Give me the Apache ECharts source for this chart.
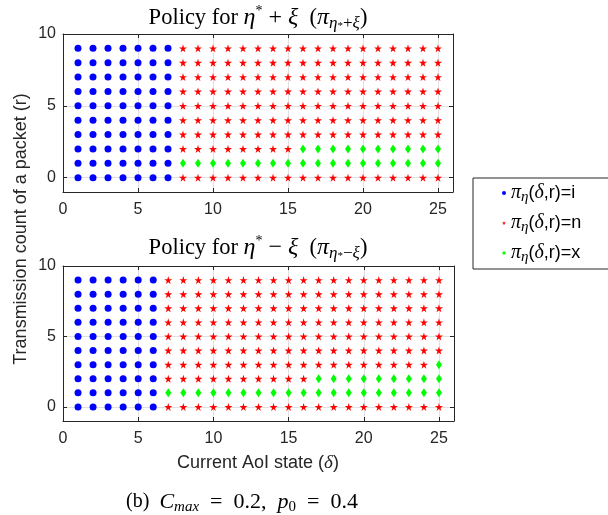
<!DOCTYPE html>
<html>
<head>
<meta charset="utf-8">
<script src="https://cdn.jsdelivr.net/npm/echarts@6/dist/echarts.min.js"></script>
<style>
html,body{margin:0;padding:0;background:#fff;}
#chart{width:608px;height:515px;}
</style>
</head>
<body>
<div id="chart"></div>
<script>
// ---- data ----
const deltaValues = [1,2,3,4,5,6,7,8,9,10,11,12,13,14,15,16,17,18,19,20,21,22,23,24,25];
const rValues = [0,1,2,3,4,5,6,7,8,9];
// action per delta (1..25) for each r (0..9): i = idle, n = new, x = retransmit
const policyPlus = [
  'iiiiiiinnnnnnnnnnnnnnnnnn', // r=0
  'iiiiiiixxxxxxxxxxxxxxxxxx', // r=1
  'iiiiiiinnnnnnnnxxxxxxxxxx', // r=2
  'iiiiiiinnnnnnnnnnnnnnnnnn', // r=3
  'iiiiiiinnnnnnnnnnnnnnnnnn', // r=4
  'iiiiiiinnnnnnnnnnnnnnnnnn', // r=5
  'iiiiiiinnnnnnnnnnnnnnnnnn', // r=6
  'iiiiiiinnnnnnnnnnnnnnnnnn', // r=7
  'iiiiiiinnnnnnnnnnnnnnnnnn', // r=8
  'iiiiiiinnnnnnnnnnnnnnnnnn'  // r=9
];
const policyMinus = [
  'iiiiiinnnnnnnnnnnnnnnnnnn', // r=0
  'iiiiiixxxxxxxxxxxxxxxxxxx', // r=1
  'iiiiiinnnnnnnnnnxxxxxxxxx', // r=2
  'iiiiiinnnnnnnnnnnnnnnnnnx', // r=3
  'iiiiiinnnnnnnnnnnnnnnnnnn', // r=4
  'iiiiiinnnnnnnnnnnnnnnnnnn', // r=5
  'iiiiiinnnnnnnnnnnnnnnnnnn', // r=6
  'iiiiiinnnnnnnnnnnnnnnnnnn', // r=7
  'iiiiiinnnnnnnnnnnnnnnnnnn', // r=8
  'iiiiiinnnnnnnnnnnnnnnnnnn'  // r=9
];
const actions = ['i', 'n', 'x'];
const xTickLabels = ['0','5','10','15','20','25'];
const yTickLabels = ['0','5','10'];

// ---- styling ----
const AX = '#262626';
const GRIDC = '#e0e0e0';
const starPath = 'path://M50,0 L61,35 L98,35 L68,57 L79,91 L50,70 L21,91 L32,57 L2,35 L39,35 Z';
const actionStyle = {
  i: {color: '#0000ff', symbol: 'circle', size: 7},
  n: {color: '#ff0000', symbol: starPath, size: 8},
  x: {color: '#00ff00', symbol: 'diamond', size: [6, 9]}
};

function pointsFor(policy, act) {
  const pts = [];
  rValues.forEach((r, ri) => {
    deltaValues.forEach((d, di) => {
      if (policy[ri][di] === act) pts.push([d, r]);
    });
  });
  return pts;
}

const grids = [
  {left: 63, top: 34, width: 390, height: 158},
  {left: 63, top: 266, width: 391, height: 155}
];

const xAxes = [], yAxes = [], series = [];
[policyPlus, policyMinus].forEach((policy, g) => {
  const common = {min: 0, max: 26, interval: 5, gridIndex: g, type: 'value'};
  xAxes.push(Object.assign({}, common, {
    position: 'bottom',
    axisLine: {show: true, onZero: false, lineStyle: {color: AX, width: 1}},
    axisTick: {show: true, inside: true, length: 4, lineStyle: {color: AX}},
    axisLabel: {show: true, margin: 10, color: AX, fontFamily: 'Liberation Sans', fontSize: 16,
      formatter: v => xTickLabels.indexOf(String(v)) >= 0 ? String(v) : ''},
    splitLine: {show: true, lineStyle: {color: GRIDC, width: 1}}
  }));
  xAxes.push(Object.assign({}, common, {
    position: 'top',
    axisLine: {show: true, onZero: false, lineStyle: {color: AX, width: 1}},
    axisTick: {show: true, inside: true, length: 4, lineStyle: {color: AX}},
    axisLabel: {show: false},
    splitLine: {show: false}
  }));
  const ycommon = {min: -1, max: 10, splitNumber: 2, gridIndex: g, type: 'value'};
  yAxes.push(Object.assign({}, ycommon, {
    position: 'left',
    axisLine: {show: true, onZero: false, lineStyle: {color: AX, width: 1}},
    axisTick: {show: true, inside: true, length: 4, lineStyle: {color: AX}},
    axisLabel: {show: true, margin: 7, color: AX, fontFamily: 'Liberation Sans', fontSize: 16,
      formatter: v => { const s = String(Math.round(v)); return yTickLabels.indexOf(s) >= 0 && v >= 0 ? s : ''; }},
    splitLine: {show: true, lineStyle: {color: GRIDC, width: 1}}
  }));
  yAxes.push(Object.assign({}, ycommon, {
    position: 'right',
    axisLine: {show: true, onZero: false, lineStyle: {color: AX, width: 1}},
    axisTick: {show: true, inside: true, length: 4, lineStyle: {color: AX}},
    axisLabel: {show: false},
    splitLine: {show: false}
  }));
  actions.forEach(a => {
    const st = actionStyle[a];
    series.push({
      type: 'scatter', name: a,
      xAxisIndex: 2 * g, yAxisIndex: 2 * g,
      symbol: st.symbol, symbolSize: st.size,
      itemStyle: {color: st.color, opacity: 1},
      emphasis: {disabled: true},
      data: pointsFor(policy, a)
    });
  });
});

const serif = 'Liberation Serif';
const titleRich = {
  a: {fontFamily: serif, fontSize: 20, lineHeight: 26, fill: '#000', verticalAlign: 'middle'},
  m: {fontFamily: serif, fontSize: 22, lineHeight: 26, fill: '#000', verticalAlign: 'middle'},
  it: {fontFamily: serif, fontSize: 22, fontStyle: 'italic', lineHeight: 26, fill: '#000', verticalAlign: 'middle'},
  sub: {fontFamily: serif, fontSize: 15, fontStyle: 'italic', lineHeight: 13, fill: '#000', verticalAlign: 'bottom'},
  subup: {fontFamily: serif, fontSize: 15, lineHeight: 13, fill: '#000', verticalAlign: 'bottom'},
  // larger variants for the panel titles
  ta: {fontFamily: serif, fontSize: 22.5, lineHeight: 28, fill: '#000', verticalAlign: 'middle'},
  tm: {fontFamily: serif, fontSize: 24, lineHeight: 28, fill: '#000', verticalAlign: 'middle'},
  tit: {fontFamily: serif, fontSize: 24, fontStyle: 'italic', lineHeight: 28, fill: '#000', verticalAlign: 'middle'},
  tsup: {fontFamily: serif, fontSize: 14, lineHeight: 13, fill: '#000', verticalAlign: 'top'},
  tsub: {fontFamily: serif, fontSize: 17, fontStyle: 'italic', lineHeight: 14, fill: '#000', verticalAlign: 'bottom'},
  tsubup: {fontFamily: serif, fontSize: 17, lineHeight: 14, fill: '#000', verticalAlign: 'bottom'},
  tsubsup: {fontFamily: serif, fontSize: 11, lineHeight: 22, fill: '#000', verticalAlign: 'bottom'},
  s: {fontFamily: 'Liberation Sans', fontSize: 18, lineHeight: 26, fill: AX, verticalAlign: 'middle'},
  its: {fontFamily: serif, fontSize: 19, fontStyle: 'italic', lineHeight: 26, fill: AX, verticalAlign: 'middle'}
};

function gtext(x, y, text, extra) {
  return Object.assign({
    type: 'text', x: x, y: y, silent: true,
    style: {text: text, align: 'center', verticalAlign: 'middle', rich: titleRich}
  }, extra || {});
}

const option = {
  animation: false,
  backgroundColor: '#fff',
  grid: grids,
  xAxis: xAxes,
  yAxis: yAxes,
  series: series,
  legend: {
    orient: 'vertical', left: 473, top: 178,
    padding: [5, 40, 4, 29], itemGap: 8,
    itemWidth: 4, itemHeight: 4,
    borderColor: AX, borderWidth: 1, backgroundColor: '#fff',
    selectedMode: false,
    data: [{name: 'i', icon: 'circle'}, {name: 'n', icon: starPath}, {name: 'x', icon: 'diamond'}],
    formatter: name => '{it|π}{sub|η}{p|(}{it|δ}{p|,r)=' + name + '}',
    textStyle: {
      rich: {
        it: {fontFamily: serif, fontSize: 20, fontStyle: 'italic', lineHeight: 24, color: '#000', verticalAlign: 'middle'},
        sub: {fontFamily: serif, fontSize: 15, fontStyle: 'italic', lineHeight: 4, color: '#000', verticalAlign: 'bottom'},
        p: {fontFamily: 'Liberation Sans', fontSize: 18, lineHeight: 24, color: '#000', verticalAlign: 'middle'}
      }
    }
  },
  graphic: [
    gtext(258, 18, '{ta|Policy for }{tit|η}{tsup|*}{tm| + }{tit|ξ}{ta|  (}{tit|π}{tsub|η}{tsubsup|*}{tsubup|+}{tsub|ξ}{ta|)}'),
    gtext(258, 248, '{ta|Policy for }{tit|η}{tsup|*}{tm| − }{tit|ξ}{ta|  (}{tit|π}{tsub|η}{tsubsup|*}{tsubup|−}{tsub|ξ}{ta|)}'),
    gtext(258, 463, '{s|Current AoI state (}{its|δ}{s|)}'),
    gtext(21, 229, '{s|Transmission count of a packet (r)}', {rotation: Math.PI / 2}),
    gtext(242, 502, '{a|(b)  }{it|C}{sub|max}{m|  =  0.2,  }{it|p}{subup|0}{m|  =  0.4}')
  ]
};

const chart = echarts.init(document.getElementById('chart'), null, {renderer: 'canvas'});
chart.setOption(option);
</script>
</body>
</html>
